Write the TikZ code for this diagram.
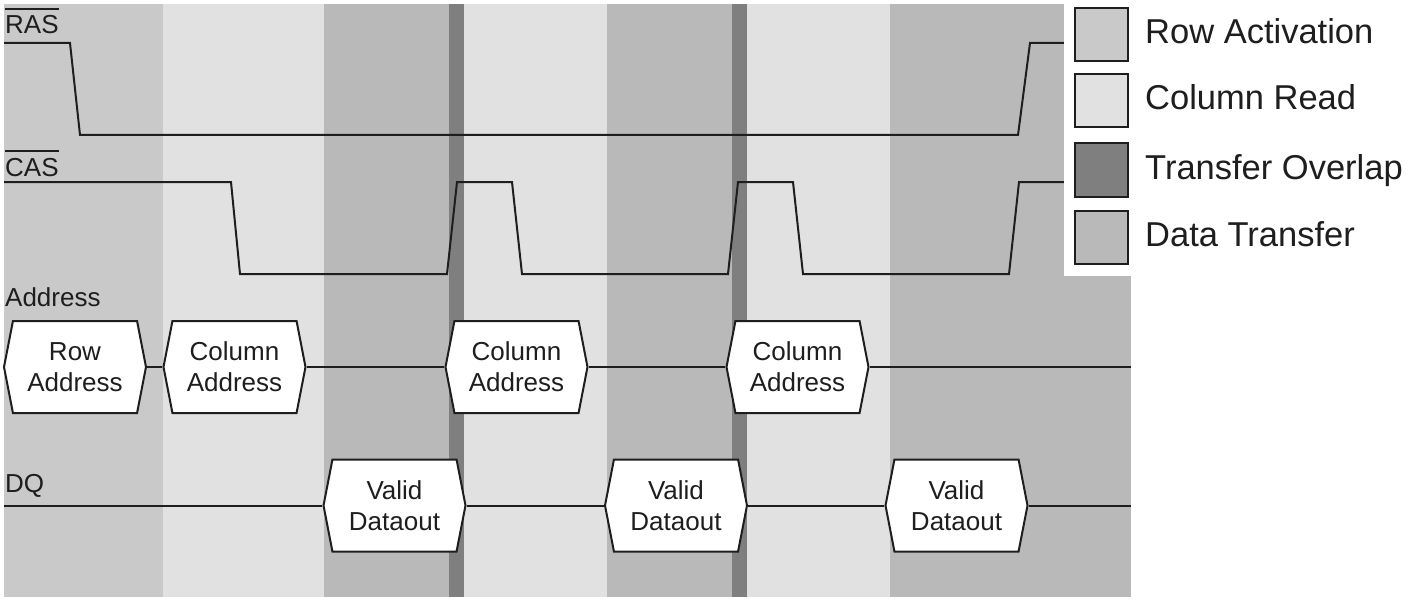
\documentclass[tikz,border=0pt]{standalone}
\usepackage{fontspec}
\setmainfont{Liberation Sans}
\usetikzlibrary{shapes.symbols}
\definecolor{rowact}{HTML}{C9C9C9}
\definecolor{colread}{HTML}{E1E1E1}
\definecolor{overlapc}{HTML}{7F7F7F}
\definecolor{datatr}{HTML}{B9B9B9}
\definecolor{inkc}{HTML}{1E1E1E}
\begin{document}
\begin{tikzpicture}[x=1pt,y=-1pt,
  sig/.style={line width=2pt, draw=inkc, line join=miter},
  hexbox/.style={signal, signal to=east and west, signal pointer angle=158,
    draw=inkc, line width=2pt, fill=white, minimum height=92pt, minimum width=142pt,
    inner sep=0pt, align=center, font=\fontsize{26}{31}\selectfont, text=inkc},
  lbl/.style={anchor=base west, inner sep=0pt, font=\fontsize{26}{31}\selectfont, text=inkc},
  legbox/.style={draw=inkc, line width=2pt, minimum size=53pt, inner sep=0pt},
  legtext/.style={anchor=base west, inner sep=0pt, font=\fontsize{34.5}{40}\selectfont, text=inkc}]
\useasboundingbox[fill=white] (0,0) rectangle (1413,599);
% bands
\fill[rowact]   (4,4) rectangle (163,597);
\fill[colread]  (163,4) rectangle (324,597);
\fill[datatr]   (324,4) rectangle (449,597);
\fill[overlapc] (449,4) rectangle (464,597);
\fill[colread]  (464,4) rectangle (607,597);
\fill[datatr]   (607,4) rectangle (732,597);
\fill[overlapc] (732,4) rectangle (747,597);
\fill[colread]  (747,4) rectangle (890,597);
\fill[datatr]   (890,4) rectangle (1131,597);
% signals
\draw[sig] (4,43) -- (70,43) -- (80,135) -- (1018,135) -- (1030,43) -- (1064,43);
\draw[sig] (4,182) -- (231,182) -- (240,274) -- (447,274) -- (457,182) -- (512,182)
  -- (522,274) -- (728,274) -- (738,182) -- (793,182) -- (803,274) -- (1009,274)
  -- (1019,182) -- (1064,182);
% labels
\node[lbl] (ras) at (5,34) {RAS};
\draw[line width=2pt, draw=inkc] ([yshift=7pt]ras.north west) -- ([yshift=7pt]ras.north east);
\node[lbl] (cas) at (5,176) {CAS};
\draw[line width=2pt, draw=inkc] ([yshift=7pt]cas.north west) -- ([yshift=7pt]cas.north east);
\node[lbl] (addr) at (5,306) {Address};
\node[lbl] (dq) at (5,492) {DQ};
% address bus
\node[hexbox] (ra) at (75,367) {Row\\Address};
\node[hexbox] (ca1) at (234.5,367) {Column\\Address};
\node[hexbox] (ca2) at (516.5,367) {Column\\Address};
\node[hexbox] (ca3) at (797.5,367) {Column\\Address};
\coordinate (aend) at (1131,367);
\draw[sig] (ra.east) -- (ca1.west);
\draw[sig] (ca1.east) -- (ca2.west);
\draw[sig] (ca2.east) -- (ca3.west);
\draw[sig] (ca3.east) -- (aend);
% DQ bus
\coordinate (dstart) at (4,505.5);
\coordinate (dend) at (1131,505.5);
\node[hexbox] (v1) at (394.5,505.5) {Valid\\Dataout};
\node[hexbox] (v2) at (676,505.5) {Valid\\Dataout};
\node[hexbox] (v3) at (956.5,505.5) {Valid\\Dataout};
\draw[sig] (dstart) -- (v1.west);
\draw[sig] (v1.east) -- (v2.west);
\draw[sig] (v2.east) -- (v3.west);
\draw[sig] (v3.east) -- (dend);
% legend
\fill[white] (1064,0) rectangle (1413,276);
\node[legbox, fill=rowact]   (k1) at (1101.5,34.5) {};
\node[legbox, fill=colread]  (k2) at (1101.5,101) {};
\node[legbox, fill=overlapc] (k3) at (1101.5,170) {};
\node[legbox, fill=datatr]   (k4) at (1101.5,237.5) {};
\node[legtext] (t1) at (1145,43.5) {Row Activation};
\node[legtext] (t2) at (1145,110) {Column Read};
\node[legtext] (t3) at (1145,179) {Transfer Overlap};
\node[legtext] (t4) at (1145,246.5) {Data Transfer};
\end{tikzpicture}
\end{document}
